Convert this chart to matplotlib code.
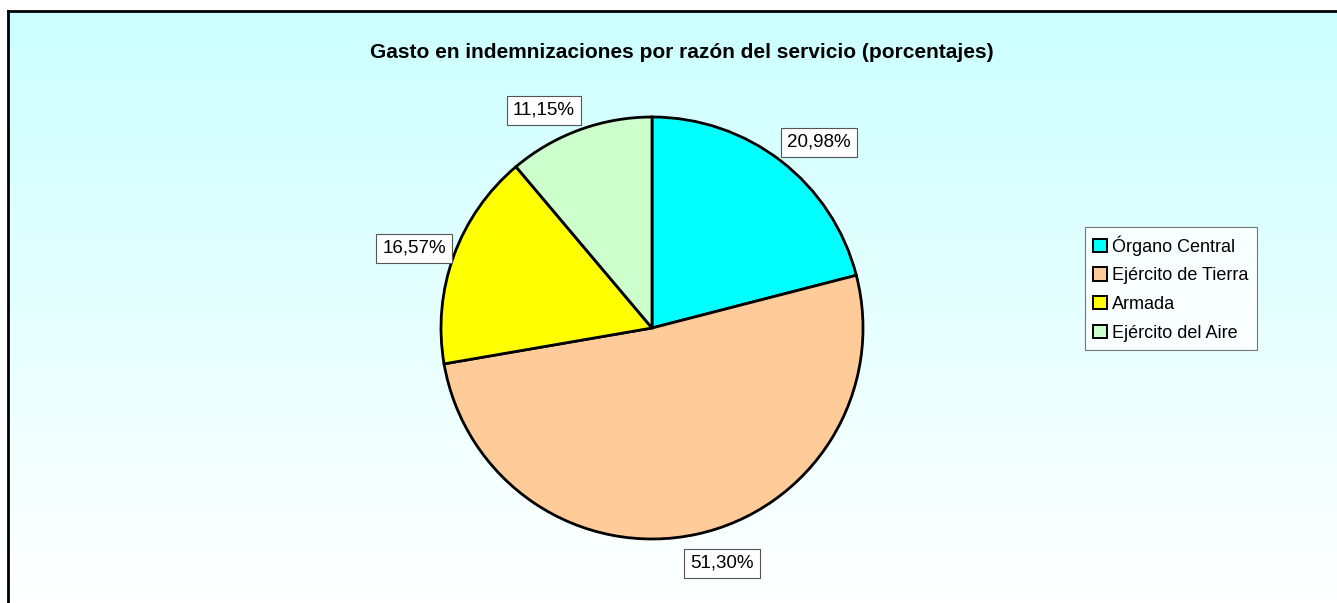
import numpy as np
import matplotlib
matplotlib.use("Agg")
import matplotlib.pyplot as plt
from matplotlib.lines import Line2D
from matplotlib.patches import Patch

plt.rcParams['font.family'] = ['Liberation Sans', 'DejaVu Sans']

title = "Gasto en indemnizaciones por razón del servicio (porcentajes)"
categories = ["Órgano Central", "Ejército de Tierra", "Armada", "Ejército del Aire"]
values = [20.98, 51.30, 16.57, 11.15]
value_labels = ["20,98%", "51,30%", "16,57%", "11,15%"]
colors = ["#00FFFF", "#FFCC99", "#FFFF00", "#CCFFCC"]

W, H = 1337, 603
fig = plt.figure(figsize=(W / 100, H / 100), dpi=100)

# gradient background
bg = fig.add_axes([0, 0, 1, 1])
grad = np.linspace(0, 1, 256).reshape(-1, 1)
top = np.array([0xCC, 0xFF, 0xFF]) / 255.0
bot = np.array([1.0, 1.0, 1.0])
img = top[None, None, :] * (1 - grad[:, :, None]) + bot[None, None, :] * grad[:, :, None]
x0 = 8 / W
y1 = 1 - 11 / H
bg.imshow(img, extent=[x0, 1, 0, y1], aspect='auto', origin='upper')
bg.set_xlim(0, 1)
bg.set_ylim(0, 1)
bg.axis('off')
bg.add_line(Line2D([x0, x0], [0, y1], color='black', lw=2))
bg.add_line(Line2D([x0, 1], [y1, y1], color='black', lw=2))

# pie
cx, cy, r = 652, 328, 211
ax = fig.add_axes([(cx - r) / W, (H - cy - r) / H, 2 * r / W, 2 * r / H])
wedges, _ = ax.pie(values, colors=colors, startangle=90, counterclock=False,
                   wedgeprops=dict(edgecolor='black', linewidth=2))
ax.set_xlim(-1, 1)
ax.set_ylim(-1, 1)
ax.set_aspect('equal')
ax.axis('off')

label_pos = [(819, 142), (722, 563), (414, 248), (544, 110)]
for (px, py), txt in zip(label_pos, value_labels):
    ax.text((px - cx) / r, (cy - py) / r, txt, ha='center', va='center', fontsize=13.5,
            bbox=dict(boxstyle='square,pad=0.32', fc='white', ec='#555555', lw=0.8),
            clip_on=False)

fig.text(682 / W, 1 - 53 / H, title, ha='center', va='center', fontsize=15, fontweight='bold')

handles = [Patch(facecolor=c, edgecolor='black', lw=1.4) for c in colors]
leg = fig.legend(handles, categories, loc='upper left', bbox_to_anchor=(1085 / W, 1 - 227 / H),
                 frameon=True, fancybox=False, fontsize=13, handlelength=0.75, handleheight=0.75,
                 handletextpad=0.3, labelspacing=0.65, borderpad=0.45, borderaxespad=0)
leg.get_frame().set_edgecolor('#555555')
leg.get_frame().set_linewidth(0.8)
leg.get_frame().set_facecolor('white')

fig.savefig('out.png', dpi=100)
